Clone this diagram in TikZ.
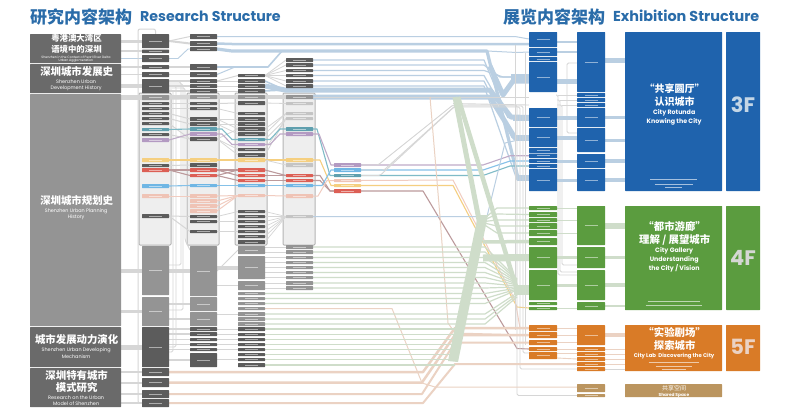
\documentclass[tikz,border=0pt]{standalone}
\usepackage{fontspec}
\setmainfont{Poppins}
\newfontfamily\cjk{Noto Sans CJK SC}
\usetikzlibrary{calc}
\pgfdeclarelayer{panel}\pgfdeclarelayer{wires}
\pgfsetlayers{panel,wires,main}
\definecolor{hd}{HTML}{1F63AD}\definecolor{tt}{HTML}{2A6CA9}
\definecolor{dk}{HTML}{5C5C5C}\definecolor{hdk}{HTML}{6A6A6A}\definecolor{mg}{HTML}{949494}
\definecolor{lg}{HTML}{C4C4C4}\definecolor{pf}{HTML}{EEEEEE}\definecolor{pb}{HTML}{B4B4B4}
\definecolor{cteal}{HTML}{5F9FAE}\definecolor{cpur}{HTML}{B39AC2}\definecolor{cblu}{HTML}{6FB6E4}
\definecolor{cyel}{HTML}{F5CF80}\definecolor{cred}{HTML}{DC5F55}\definecolor{cpnk}{HTML}{EFC3B5}
\definecolor{bgrn}{HTML}{5B9C3F}\definecolor{bora}{HTML}{D97B27}\definecolor{btan}{HTML}{BB955F}
\definecolor{wb}{HTML}{BACFE2}\definecolor{wg}{HTML}{CFDDCA}\definecolor{wp}{HTML}{EBD2C3}\definecolor{wy}{HTML}{D6D6D6}
\definecolor{lteal}{HTML}{7FBBC7}\definecolor{lred}{HTML}{BC9A9C}\definecolor{lpur}{HTML}{BFABC8}
\tikzset{
 bb/.style={rectangle,inner sep=0pt,outer sep=0pt,rounded corners=0.5pt,text=white,text opacity=.5},
 sdk/.style={bb,fill=dk}, shd/.style={bb,fill=hdk}, smg/.style={bb,fill=mg}, slg/.style={bb,fill=lg},
 stl/.style={bb,fill=cteal}, spu/.style={bb,fill=cpur}, sbl/.style={bb,fill=cblu}, sye/.style={bb,fill=cyel},
 sre/.style={bb,fill=cred}, spn/.style={bb,fill=cpnk}, shb/.style={bb,fill=hd}, sgr/.style={bb,fill=bgrn},
 sor/.style={bb,fill=bora}, stn/.style={bb,fill=btan},
 pnl/.style={rectangle,inner sep=0pt,outer sep=0pt,rounded corners=1pt,fill=pf,draw=pb,line width=1pt},
 wire/.style={line join=round},
 wgy/.style={wire,draw=wy,line width=#1}, wgy/.default=1pt,
 wbl/.style={wire,draw=wb,line width=#1}, wbl/.default=1pt,
 wgn/.style={wire,draw=wg,line width=#1}, wgn/.default=1pt,
 wpe/.style={wire,draw=wp,line width=#1}, wpe/.default=1pt,
 wtl/.style={wire,draw=lteal,line width=1.1pt},
 wpu/.style={wire,draw=lpur,line width=1.1pt},
 wbu/.style={wire,draw=cblu!85,line width=1.1pt},
 wye/.style={wire,draw=cyel,line width=1.1pt},
 wre/.style={wire,draw=lred,line width=1.1pt},
 wpk/.style={wire,draw=cpnk!85,line width=1pt},
 txw/.style={inner sep=0pt,outer sep=0pt,text=white,align=center},
}
\newcommand\bx[6]{\pgfmathsetmacro\bw{#5-#3}\pgfmathsetmacro\bh{#6-#4}\pgfmathsetmacro\bs{min(.5*\bw,13)}%
 \node[#1,minimum width=\bw pt,minimum height=\bh pt] (#2) at ({(#3+#5)/2},{(#4+#6)/2}) {\rule{\bs pt}{1pt}};}
\newcommand\px[6]{\pgfmathsetmacro\bw{#5-#3}\pgfmathsetmacro\bh{#6-#4}%
 \node[#1,minimum width=\bw pt,minimum height=\bh pt] (#2) at ({(#3+#5)/2},{(#4+#6)/2}) {};}
\newcommand\ca[4]{\bx{#4}{#1}{142}{#2}{169}{#3}}
\newcommand\cb[4]{\bx{#4}{#1}{190}{#2}{217}{#3}}
\newcommand\cc[4]{\bx{#4}{#1}{238}{#2}{265}{#3}}
\newcommand\cd[4]{\bx{#4}{#1}{286}{#2}{313}{#3}}
\newcommand\ce[4]{\bx{#4}{#1}{334}{#2}{361}{#3}}
\newcommand\cf[4]{\bx{#4}{#1}{529}{#2}{557}{#3}}
\newcommand\cg[4]{\bx{#4}{#1}{577}{#2}{605}{#3}}
\newcommand\tx[5]{\node[txw] (#1) at (#2,#3) {#4 #5};}
\newcounter{smc}
\newcommand\sm[3]{\stepcounter{smc}\node[inner sep=0pt,text=white,text opacity=.6] (sm\arabic{smc}) at (#1,#2) {\rule{#3pt}{1pt}};}
\newcommand\hto[3]{\draw[#1] (#2.east |- #3.west) -- (#3.west);}
\newcommand\st[3]{\draw[#1] (#2.east) -- (#3.west);}
\newcommand\chf[5]{\draw[#1] (#2.east) -- (#2.east -| #4,0) -- (#3.west -| #5,0) -- (#3.west);}
\begin{document}
\begin{tikzpicture}[x=1pt,y=-1pt]
\useasboundingbox (0,0) rectangle (790,416);
\begin{pgfonlayer}{panel}
\fill[white] (0,0) rectangle (790,416);
\end{pgfonlayer}
% titles
\node[inner sep=0pt,anchor=west,text=tt] (t1) at (30,16.5) {\cjk\bfseries\fontsize{17}{17}\selectfont 研究内容架构};
\node[inner sep=0pt,anchor=west,text=tt] (t2) at (140,16) {\bfseries\fontsize{14.2}{14.2}\selectfont Research Structure};
\node[inner sep=0pt,anchor=west,text=tt] (t3) at (503,16.5) {\cjk\bfseries\fontsize{17}{17}\selectfont 展览内容架构};
\node[inner sep=0pt,anchor=west,text=tt] (t4) at (613,16) {\bfseries\fontsize{14.4}{14.4}\selectfont Exhibition Structure};
% panels
\begin{pgfonlayer}{panel}
\px{pnl}{pA}{139}{93}{171}{245}
\px{pnl}{pB}{187}{93}{219}{245}
\px{pnl}{pC}{235}{93}{267}{245}
\px{pnl}{pD}{283}{93}{315}{245}
\end{pgfonlayer}
% headers
\px{shd}{h1}{30}{34}{121}{63}
\px{shd}{h2}{30}{64}{121}{93}
\px{smg}{h3}{30}{94}{121}{326}
\px{shd}{h4}{30}{327}{121}{367}
\px{shd}{h5}{30}{368}{121}{407}
% column A
\ca{a1}{34}{48}{sdk}\ca{a2}{49.5}{53}{sdk}\ca{a3}{55}{62}{sdk}\ca{a4}{65}{69}{sdk}\ca{a5}{72}{77}{sdk}\ca{a6}{79}{93}{sdk}
\ca{a7}{95}{100}{smg}\ca{a8}{102}{105}{sdk}\ca{a9}{107}{110}{sdk}\ca{a10}{112}{115}{sdk}\ca{a11}{117}{120}{sdk}\ca{a12}{122}{125}{sdk}
\ca{a13}{128}{131}{stl}\ca{a14}{133}{136}{sdk}\ca{a15}{138}{142}{spu}\ca{a16}{158}{162}{sye}\ca{a17}{164}{167}{sdk}\ca{a18}{168}{172}{sre}
\ca{a19}{184}{188}{sbl}\ca{a20}{194}{198}{spn}\ca{a21}{214}{218}{sdk}\ca{a22}{246}{295}{smg}\ca{a23}{297}{326}{smg}\ca{a24}{327}{367}{sdk}
\ca{a25}{368}{376}{sdk}\ca{a26}{378}{387}{sdk}\ca{a27}{390}{398}{sdk}\ca{a28}{399}{407}{sdk}
% column B
\cb{b1}{34}{39}{sdk}\cb{b2}{41}{46}{sdk}\cb{b3}{47}{51}{sdk}\cb{b4}{64}{70}{sdk}\cb{b5}{72}{77}{sdk}\cb{b6}{79}{83}{sdk}\cb{b7}{84}{88}{sdk}\cb{b8}{89}{93}{sdk}
\cb{b9}{95}{99}{smg}\cb{b10}{102}{105}{sdk}\cb{b11}{107}{110}{sdk}\cb{b12}{117}{121}{sdk}\cb{b13}{122}{126}{sdk}\cb{b14}{127}{131}{stl}\cb{b15}{132}{136}{spu}\cb{b16}{137}{141}{sdk}
\cb{b17}{158}{162}{sye}\cb{b18}{163}{167}{sdk}\cb{b19}{168}{172}{sre}\cb{b20}{174}{177}{sre}\cb{b21}{184}{187}{sbl}\cb{b22}{194}{198}{spn}\cb{b23}{199}{203}{spn}\cb{b24}{204}{208}{spn}\cb{b25}{209}{213}{spn}
\cb{b26}{215}{218}{sdk}\cb{b27}{220}{223}{sdk}\cb{b28}{230}{233}{sdk}\cb{b29}{246}{296}{smg}\cb{b30}{297}{311}{smg}\cb{b31}{312}{326}{smg}
\cb{b32}{327}{331}{sdk}\cb{b33}{332}{336}{sdk}\cb{b34}{338}{341}{sdk}\cb{b35}{343}{346}{sdk}\cb{b36}{348}{351}{sdk}\cb{b37}{353}{367}{sdk}
% column C
\cc{c1}{74}{77}{sdk}\cc{c2}{79}{83}{sdk}\cc{c3}{84}{88}{sdk}\cc{c4}{89}{93}{sdk}\cc{c5}{95}{99}{smg}\cc{c6}{101}{105}{sdk}
\cc{c7}{112}{115}{sdk}\cc{c8}{117}{121}{sdk}\cc{c9}{122}{126}{sdk}\cc{c10}{127}{131}{sdk}\cc{c11}{132}{136}{sdk}\cc{c12}{138}{141}{stl}\cc{c13}{143}{146}{spu}\cc{c14}{148}{151}{sdk}\cc{c15}{153}{157}{sdk}
\cc{c16}{158}{162}{sye}\cc{c17}{168}{172}{sre}\cc{c18}{174}{177}{sre}\cc{c19}{179}{182}{sre}\cc{c20}{184}{187}{sbl}\cc{c21}{194}{197}{spn}
\cc{c22}{210}{213}{sdk}\cc{c23}{215}{218}{sdk}\cc{c24}{220}{223}{sdk}\cc{c25}{225}{228}{sdk}\cc{c26}{230}{233}{sdk}\cc{c27}{235}{238}{sdk}\cc{c28}{240}{244}{sdk}
\cc{c29}{246}{254}{smg}\cc{c30}{256}{279}{smg}\cc{c31}{281}{290}{smg}\cc{c32}{292}{295}{smg}\cc{c33}{297}{300}{smg}\cc{c34}{302}{305}{smg}\cc{c35}{307}{310}{smg}\cc{c36}{312}{316}{smg}\cc{c37}{317}{321}{smg}\cc{c38}{322}{326}{smg}
\cc{c39}{327}{331}{sdk}\cc{c40}{333}{336}{sdk}\cc{c41}{338}{341}{sdk}\cc{c42}{343}{346}{sdk}\cc{c43}{348}{351}{sdk}\cc{c44}{353}{356}{sdk}\cc{c45}{358}{361}{sdk}\cc{c46}{363}{367}{sdk}
% column D
\cd{d1}{58}{62}{sdk}\cd{d2}{63}{67}{sdk}\cd{d3}{69}{72}{sdk}\cd{d4}{74}{77}{sdk}\cd{d5}{79}{83}{sdk}\cd{d6}{84}{88}{sdk}\cd{d7}{95}{99}{smg}\cd{d8}{102}{105}{slg}\cd{d9}{112}{115}{slg}\cd{d10}{117}{120}{slg}
\cd{d11}{127}{131}{stl}\cd{d12}{132}{136}{spu}\cd{d13}{158}{162}{sye}\cd{d14}{163}{167}{slg}\cd{d15}{174}{177}{sre}\cd{d16}{179}{182}{sre}\cd{d17}{184}{187}{sbl}\cd{d18}{194}{198}{spn}\cd{d19}{215}{218}{slg}
\cd{d20}{245}{249}{smg}\cd{d21}{250}{254}{smg}\cd{d22}{256}{259}{smg}\cd{d23}{261}{264}{smg}\cd{d24}{266}{269}{smg}\cd{d25}{271}{274}{smg}\cd{d26}{276}{279}{smg}\cd{d27}{281}{285}{smg}\cd{d28}{286}{290}{smg}
% column E
\ce{e1}{163}{167}{spu}\ce{e2}{168}{172}{sbl}\ce{e3}{174}{177}{stl}\ce{e4}{179}{182}{spn}\ce{e5}{184}{187}{sye}\ce{e6}{189}{193}{sre}
% column F
\cf{f1}{32}{47}{shb}\cf{f2}{48}{56}{shb}\cf{f3}{57}{61}{shb}\cf{f4}{62}{92}{shb}\cf{f5}{108}{127}{shb}\cf{f6}{128}{147}{shb}\cf{f7}{148}{153}{shb}\cf{f8}{153.5}{158}{shb}\cf{f9}{159}{163}{shb}\cf{f10}{164}{168}{shb}\cf{f11}{169}{191}{shb}
\cf{fg1}{206}{210}{sgr}\cf{fg2}{212}{217}{sgr}\cf{fg3}{218}{222}{sgr}\cf{fg4}{223}{229}{sgr}\cf{fg5}{230}{236}{sgr}\cf{fg6}{238}{245}{sgr}\cf{fg7}{247}{268}{sgr}\cf{fg8}{270}{300}{sgr}\cf{fg9}{302}{305}{sgr}\cf{fg10}{307}{310}{sgr}
\cf{fo1}{325}{331}{sor}\cf{fo2}{332}{338}{sor}\cf{fo3}{340}{345}{sor}\cf{fo4}{347}{351}{sor}\cf{fo5}{352}{359}{sor}
% column G
\cg{g1}{32}{92}{shb}\cg{g2}{93}{97}{shb}\cg{g3}{98}{102}{shb}\cg{g4}{103}{107}{shb}\cg{g5}{108}{127}{shb}\cg{g6}{128}{152}{shb}\cg{g7}{154}{168}{shb}\cg{g8}{169}{191}{shb}
\cg{gg1}{206}{245}{sgr}\cg{gg2}{247}{268}{sgr}\cg{gg3}{270}{300}{sgr}\cg{gg4}{302}{310}{sgr}
\cg{go1}{325}{345}{sor}\cg{go2}{347}{351}{sor}\cg{go3}{352}{356}{sor}\cg{go4}{357}{361}{sor}\cg{go5}{362}{366}{sor}\cg{go6}{367}{371}{sor}
\cg{gt1}{384}{392}{stn}\cg{gt2}{394}{397}{stn}
% big boxes
\px{shb}{bB}{625}{32}{722}{191}\px{shb}{fB}{726}{32}{760}{191}
\px{sgr}{bG}{625}{206}{722}{310}\px{sgr}{fG}{726}{206}{760}{310}
\px{sor}{bO}{625}{325}{722}{371}\px{sor}{fO}{726}{325}{760}{371}
\px{stn}{bT}{625}{384}{722}{397}
% texts left
\tx{l1}{75.5}{38.5}{\cjk\bfseries\fontsize{8.4}{8.4}\selectfont}{粤港澳大湾区}
\tx{l2}{75.5}{49}{\cjk\bfseries\fontsize{8.4}{8.4}\selectfont}{语境中的深圳}
\tx{l3}{75.5}{56.8}{\fontsize{3.2}{3.2}\selectfont}{Shenzhen in the Context of Pearl River Delta}
\tx{l4}{75.5}{61}{\fontsize{3.2}{3.2}\selectfont}{Urban Agglomeration}
\tx{l5}{75.5}{72}{\cjk\bfseries\fontsize{10.4}{10.4}\selectfont}{深圳城市发展史}
\tx{l6}{75.5}{82}{\fontsize{4.9}{4.9}\selectfont}{Shenzhen Urban}
\tx{l7}{75.5}{88.3}{\fontsize{4.9}{4.9}\selectfont}{Development History}
\tx{l8}{75.5}{201}{\cjk\bfseries\fontsize{10.4}{10.4}\selectfont}{深圳城市规划史}
\tx{l9}{75.5}{211}{\fontsize{4.9}{4.9}\selectfont}{Shenzhen Urban Planning}
\tx{l10}{75.5}{217.3}{\fontsize{4.9}{4.9}\selectfont}{History}
\tx{l11}{75.5}{340}{\cjk\bfseries\fontsize{10.4}{10.4}\selectfont}{城市发展动力演化}
\tx{l12}{75.5}{350.5}{\fontsize{4.9}{4.9}\selectfont}{Shenzhen Urban Developing}
\tx{l13}{75.5}{356.8}{\fontsize{4.9}{4.9}\selectfont}{Mechanism}
\tx{l14}{75.5}{375}{\cjk\bfseries\fontsize{10.4}{10.4}\selectfont}{深圳特有城市}
\tx{l15}{75.5}{387.5}{\cjk\bfseries\fontsize{10.4}{10.4}\selectfont}{模式研究}
\tx{l16}{75.5}{397.3}{\fontsize{4.9}{4.9}\selectfont}{Research on the Urban}
\tx{l17}{75.5}{403.6}{\fontsize{4.9}{4.9}\selectfont}{Model of Shenzhen}
% texts right
\tx{r1}{673.5}{89}{\cjk\bfseries\fontsize{10}{10}\selectfont}{“共享圆厅”}
\tx{r2}{673.5}{102}{\cjk\bfseries\fontsize{10}{10}\selectfont}{认识城市}
\tx{r3}{673.5}{113}{\bfseries\fontsize{6.3}{6.3}\selectfont}{City Rotunda}
\tx{r4}{673.5}{121.5}{\bfseries\fontsize{6.3}{6.3}\selectfont}{Knowing the City}
\sm{673.5}{179.5}{47}\sm{673.5}{184}{38}\sm{673.5}{187.5}{17}
\node[inner sep=0pt,text=wb!85!white] (n3) at (743,105) {\bfseries\fontsize{21}{21}\selectfont 3F};
\tx{r5}{673.5}{227}{\cjk\bfseries\fontsize{10.4}{10.4}\selectfont}{“都市游廊”}
\tx{r6}{673.5}{240}{\cjk\bfseries\fontsize{10.4}{10.4}\selectfont}{理解 / 展望城市}
\tx{r7}{673.5}{251}{\bfseries\fontsize{6.3}{6.3}\selectfont}{City Gallery}
\tx{r8}{673.5}{259.5}{\bfseries\fontsize{6.3}{6.3}\selectfont}{Understanding}
\tx{r9}{673.5}{268}{\bfseries\fontsize{6.3}{6.3}\selectfont}{the City / Vision}
\sm{673.5}{301}{52}\sm{673.5}{305}{56}
\node[inner sep=0pt,text=wy!80!wg] (n4) at (743,258) {\bfseries\fontsize{21}{21}\selectfont 4F};
\tx{r10}{673.5}{332.5}{\cjk\bfseries\fontsize{10.4}{10.4}\selectfont}{“实验剧场”}
\tx{r11}{673.5}{345}{\cjk\bfseries\fontsize{10.4}{10.4}\selectfont}{探索城市}
\tx{r12}{673.5}{356.3}{\bfseries\fontsize{5.4}{5.4}\selectfont}{City Lab\ \ Discovering the City}
\sm{673.5}{362}{50}\sm{673.5}{366}{36}\sm{673.5}{369.3}{24}
\node[inner sep=0pt,text=wp] (n5) at (743,347) {\bfseries\fontsize{21}{21}\selectfont 5F};
\tx{r13}{673.5}{388}{\cjk\fontsize{6}{6}\selectfont}{共享空间}
\tx{r14}{673.5}{395}{\bfseries\fontsize{4.3}{4.3}\selectfont}{Shared Space}
% ===== connectors =====
\begin{pgfonlayer}{wires}
\hto{wgy=3pt}{h1}{a1}\hto{wgy=2pt}{h1}{a2}\hto{wbl=.8pt}{h1}{a3}
\hto{wgy=1.5pt}{h2}{a4}\hto{wgy=1.5pt}{h2}{a5}\hto{wgy=4pt}{h2}{a6}
\hto{wgy=4.5pt}{h3}{a7}\hto{wgy=4pt}{h3}{a22}\hto{wgy=2.5pt}{h3}{a23}
\hto{wgy=5pt}{h4}{a24}\hto{wgy=2.5pt}{h5}{a25}\hto{wgy=2pt}{h5}{a26}\hto{wgy=1.5pt}{h5}{a27}\hto{wgy=2pt}{h5}{a28}
\draw[wgy=1pt,rounded corners=2pt] (a1.north) -- (a1.north |- 0,29) -- (138,29) -- (138,403) -- (a28.west);
\draw[wgy=.9pt,rounded corners=1.5pt] (a6.east |- 0,82) -- (181,82) -- (181,265) -- (a22.east |- 0,265);
\draw[wgy=.9pt,rounded corners=1.5pt] (a6.east |- 0,84) -- (183,84) -- (183,310) -- (a23.east |- 0,310);
\draw[wgy=.9pt,rounded corners=1.5pt] (a6.east |- 0,86) -- (176,86) -- (176,347) -- (a24.east |- 0,347);
\draw[wgy=.9pt,rounded corners=1.5pt] (a6.east |- 0,88) -- (185,88) -- (185,240) -- (b29.west |- 0,250);
\draw[wgy=.9pt,rounded corners=1.5pt] (a6.east |- 0,90) -- (173,90) -- (173,352) -- (a24.east |- 0,352);
\st{wgy=1pt}{a1}{b1}\st{wgy=2pt}{a1}{b2}\chf{wbl=.9pt}{a3}{b3}{178}{188}
\st{wgy=1.5pt}{a4}{b4}\st{wgy=1.5pt}{a5}{b5}
\hto{wgy=1.5pt}{a6}{b6}\hto{wgy=1.5pt}{a6}{b7}\hto{wgy=1.5pt}{a6}{b8}
\st{wgy=4.5pt}{a7}{b9}
\st{wgy=1pt}{a8}{b10}\st{wgy=1pt}{a9}{b11}\st{wgy=1pt}{a10}{b12}\st{wgy=1pt}{a11}{b13}\st{wgy=1pt}{a12}{b16}\st{wgy=1pt}{a14}{b16}\st{wgy=1pt}{a17}{b18}\st{wgy=1pt}{a21}{b26}\st{wgy=1pt}{a21}{b28}
\st{wtl}{a13}{b14}\st{wpu}{a15}{b15}\st{wye}{a16}{b17}\st{wre}{a18}{b19}\st{wre}{a18}{b20}\st{wbu}{a19}{b21}
\st{wpk}{a20}{b22}
\hto{wgy=4pt}{a22}{b29}\hto{wgy=1.2pt}{a23}{b30}\hto{wgy=1.2pt}{a23}{b31}
\hto{wgy=1.2pt}{a24}{b32}\hto{wgy=1.2pt}{a24}{b33}\hto{wgy=1.2pt}{a24}{b34}\hto{wgy=1.2pt}{a24}{b35}\hto{wgy=1.2pt}{a24}{b36}\hto{wgy=1.6pt}{a24}{b37}
\st{wgy=1pt}{b6}{c1}\st{wgy=1pt}{b6}{c2}\st{wgy=1pt}{b7}{c3}\st{wgy=1pt}{b8}{c4}\st{wgy=4.5pt}{b9}{c5}\st{wgy=1pt}{b10}{c6}
\st{wgy=.8pt}{b11}{c7}\st{wgy=.8pt}{b12}{c8}\st{wgy=.8pt}{b12}{c10}\st{wgy=.8pt}{b13}{c9}\st{wgy=.8pt}{b13}{c11}\st{wgy=.8pt}{b16}{c14}\st{wgy=.8pt}{b16}{c15}\st{wgy=.8pt}{b16}{c10}
\chf{wtl}{b14}{c12}{222}{232}\chf{wpu}{b15}{c13}{222}{232}\st{wye}{b17}{c16}
\st{wre}{b19}{c17}\st{wre}{b20}{c17}\st{wre}{b19}{c18}\st{wre}{b20}{c19}\st{wbu}{b21}{c20}
\st{wpk}{b22}{c21}\st{wpk}{b23}{c21}\st{wpk}{b24}{c21}\st{wpk}{b25}{c21}
\st{wgy=.8pt}{b26}{c22}\st{wgy=.8pt}{b27}{c24}\st{wgy=.8pt}{b28}{c26}
\st{wgy=1pt}{b29}{c29}\hto{wgy=4pt}{b29}{c30}\hto{wgy=1pt}{b30}{c31}\hto{wgy=1pt}{b31}{c36}\hto{wgy=1pt}{b32}{c39}\hto{wgy=1pt}{b33}{c40}\hto{wgy=1pt}{b34}{c41}\hto{wgy=1pt}{b35}{c42}\hto{wgy=1pt}{b36}{c43}\hto{wgy=1pt}{b37}{c45}
\draw[wbl=1pt] (b1.east) -- (b1.east -| 515,0) -- (f1.west |- 0,39);
\draw[wbl=2.5pt] (b2.east) -- (232,44) -- (f1.west |- 0,44);
\draw[wbl=3.2pt] (b3.east) -- (232,51) -- (487,51) -- (518,178) -- (f11.west |- 0,178);
\draw[wbl=1pt] (487,51) -- (517,52.5) -- (f2.west);
\draw[wbl=1.6pt] (b4.east) -- (268,67) -- (282,51) -- (300,51);
\draw[wbl=1pt] (b5.east) -- (235,67) -- (268,67);
\foreach \n in {d1,d2,d3,d4,d5,d6}{\draw[wgy=.8pt] (c1.east) -- (\n.west);}
\chf{wbl=1.2pt}{d1}{f5}{484}{508}
\chf{wbl=1.2pt}{d2}{f4}{484}{500}
\chf{wbl=1.2pt}{d3}{f4}{484}{503}
\chf{wbl=1.2pt}{d4}{f5}{484}{508}
\chf{wbl=1.2pt}{d5}{f6}{484}{512}
\chf{wbl=1.2pt}{d6}{f11}{484}{517}
\draw[wbl=5pt] (c3.east) -- (285,90) -- (490,90) -- (511,117) -- (f5.west);
\draw[wbl=1.5pt] (c4.east) -- (285,90);\draw[wbl=1.5pt] (c2.east) -- (285,90);
\st{wgy=4.5pt}{c5}{d7}
\draw[wbl=5pt] (d7.east) -- (490,97) -- (515,138) -- (f6.west);
\draw[wbl=5pt] (490,66) -- (503,95) -- (513,81) -- (f4.west |- 0,81);
\draw[wbl=6pt] (f4.west -| 511,0) -- (f4.west);
\draw[wbl=6pt] (f11.west |- 0,178) -- ++(-12,0);
\draw[wbl=6pt] (f5.west) -- ++(-16,0);\draw[wbl=6pt] (f6.west) -- ++(-14,0);
\st{wgy=.8pt}{c6}{d8}\st{wgy=.8pt}{c10}{d9}\st{wgy=.8pt}{c11}{d9}\st{wgy=.8pt}{c14}{d10}\st{wgy=.8pt}{c15}{d10}\st{wgy=.8pt}{c12}{d10}
\chf{wtl}{c12}{d11}{270}{280}\chf{wpu}{c13}{d12}{270}{280}\st{wye}{c16}{d13}\st{wgy=.8pt}{c16}{d14}
\st{wre}{c17}{d15}\st{wre}{c18}{d15}\st{wre}{c19}{d16}\st{wbu}{c20}{d17}\st{wpk}{c21}{d18}
\foreach \n in {c22,c23,c24,c25,c26,c27,c28}{\draw[wgy=.7pt] (\n.east) -- (d19.west);}
\hto{wgy=.8pt}{c29}{d20}\hto{wgy=.8pt}{c29}{d21}
\foreach \n in {d22,d23,d24,d25,d26}{\draw[wgy=.8pt] (c30.east |- \n.west) -- (\n.west);}
\foreach \n in {d27,d28}{\draw[wgy=.8pt] (c31.east |- \n.west) -- (\n.west);}
\chf{wtl}{d11}{e3}{317}{330}\chf{wpu}{d12}{e1}{319}{331}\chf{wye}{d13}{e5}{320}{331}
\chf{wre}{d15}{e6}{320}{330}\chf{wre}{d16}{e6}{320}{330}\chf{wbu}{d17}{e2}{322}{331}\chf{wpk}{d18}{e4}{318}{327}
\chf{wtl}{e3}{f10}{483}{510}\chf{wpu}{e1}{f8}{483}{510}\chf{wbu}{e2}{f9}{483}{510}
\draw[wye] (e5.east) -- (453,185.5) -- (517,307) -- (fg10.west |- 0,308);
\draw[wre] (e6.east) -- (423,191) -- (517,348.5) -- (fo4.west);
\draw[wpk] (e4.east) -- (453,180) -- (515,300) -- (520,328) -- (fo1.west);
\draw[wbl=1pt] (d19.east) -- (487,216.5) -- (505,143) -- (f6.west);
\draw[wgy=.9pt,rounded corners=1.5pt] (e1.east) -- (378,165) -- (453,105) -- (517,105) -- (517,395.5) -- (gt2.west);
\draw[wgy=.9pt,rounded corners=1.5pt] (e3.east) -- (380,175.5) -- (454,107) -- (520,107) -- (520,369) -- (go6.west);
\draw[wgy=.9pt,rounded corners=1.5pt] (e2.east) -- (384,170) -- (455,106) -- (523,106) -- (523,353) -- (fo5.west |- 0,353);
\draw[wgy=.9pt] (d7.east) -- (f5.west |- 0,97);
\draw[wgy=.9pt] (d8.east -| 453,0) -- (f5.west |- 0,105);
\draw[wgy=.9pt] (515,45) -- (515,330);\draw[wgy=.9pt] (525,53) -- (525,345);
\draw[wgy=.9pt,rounded corners=1.5pt] (g1.west |- 0,63) -- (567,63) -- (567,133) -- (g6.west |- 0,133);
\draw[wgy=.9pt,rounded corners=1.5pt] (f5.east |- 0,95) -- (558,95) -- (558,275) -- (gg3.west |- 0,275);
\draw[wgy=.9pt,rounded corners=1.5pt] (f5.east |- 0,100) -- (560,100) -- (560,272) -- (gg3.west |- 0,272);
\draw[wgy=.9pt,rounded corners=1.5pt] (f5.east |- 0,105) -- (562,105) -- (562,265) -- (gg2.west |- 0,265);
\draw[wgy=.9pt] (g2.west -| 558,0) -- (g2.west);\draw[wgy=.9pt] (g3.west -| 560,0) -- (g3.west);\draw[wgy=.9pt] (g4.west -| 562,0) -- (g4.west);
\chf{wpe=2.5pt}{a25}{fo1}{423}{455}
\chf{wpe=2.5pt}{a26}{fo2}{422}{455}
\chf{wpe=2pt}{a27}{fo3}{422}{455}
\draw[wpe=2pt] (a28.east) -- (423,403) -- (455,364) -- (go5.west |- 0,364);
\draw[wpe=1pt] (c35.east) -- (392,308.5) -- (422,383) -- (435,387) -- (gt1.west |- 0,387);
\draw[wpe=1pt] (d7.east -| 430,0) -- (440,217) -- (448,323) -- (455,333) -- (fo2.west);
\draw[wpe=.9pt] (fo4.east |- 0,353) -- (go3.west |- 0,353);
\draw[wpe=.9pt] (fo5.east |- 0,358) -- (go4.west |- 0,359);
\fill[wg] (448,361) -- (458,362) -- (488,215) -- (478,215) -- cycle;
\draw[wgn=5pt] (d7.east -| 455,0) -- (480,225);
\draw[wgn=4.5pt] (d7.east -| 458,0) -- (517,290);
\draw[wgn=3.5pt] (483,242) -- (fg6.west);
\draw[wgn=7pt] (483,258) -- (fg7.west);
\draw[wgn=10pt] (514,290) -- (fg8.west |- 0,290);
\foreach \n/\y in {fg1/208,fg2/214,fg3/220,fg4/226,fg5/233}{\draw[wgn=1.2pt] (480,222) -- (497,\y) -- (\n.west);}
\foreach \n/\t in {d20/279,d21/280,d22/281,d23/282,d24/283,d25/284,d26/285,d27/286,d28/287,c32/288,c33/289,c34/290,c36/293,c37/295,c38/297}{\draw[wgn=1.2pt] (\n.east) -- (\n.east -| 485,0) -- (517,\t);}
\foreach \n in {c39,c40,c41,c42,c43,c44,c45}{\draw[wgn=1.2pt] (\n.east) -- (\n.east -| 455,0);}
\draw[wgn=1.8pt] (c46.east) -- (c46.east -| 455,0);
\draw[wbl=1.4pt] (f1.east |- 0,42) -- (g1.west |- 0,42);\draw[wbl=1.2pt] (f2.east) -- (g1.west |- 0,52);
\draw[wbl=5pt] (f4.east |- 0,81) -- (g1.west |- 0,81);
\st{wbl=4pt}{f5}{g5}\draw[wbl=4pt] (f6.east) -- (g6.west |- f6.east);
\draw[wbl=3pt] (f9.east) -- (g7.west |- f9.east);\st{wbl=3pt}{f11}{g8}
\draw[wbl=5pt] (g1.east |- 0,60) -- (bB.west |- 0,60);
\draw[wbl=3pt] (g5.east) -- (bB.west |- g5.east);\draw[wbl=3pt] (g6.east) -- (bB.west |- g6.east);
\draw[wbl=4pt] (g7.east) -- (bB.west |- g7.east);\draw[wbl=4pt] (g8.east) -- (bB.west |- g8.east);
\draw[wgn=1pt] (fg1.east) -- (gg1.west |- fg1.east);\draw[wgn=1pt] (fg3.east) -- (gg1.west |- fg3.east);\draw[wgn=1pt] (fg5.east) -- (gg1.west |- fg5.east);
\st{wgn=3pt}{fg7}{gg2}\draw[wgn=3pt] (fg8.east |- 0,285) -- (gg3.west |- 0,285);\draw[wgn=1.5pt] (fg10.east) -- (gg4.west |- fg10.east);
\draw[wgn=6pt] (gg1.east |- 0,226) -- (bG.west |- 0,226);
\draw[wgn=3.5pt] (gg2.east) -- (bG.west |- gg2.east);\draw[wgn=3.5pt] (gg3.east |- 0,285) -- (bG.west |- 0,285);\draw[wgn=2pt] (gg4.east) -- (bG.west |- gg4.east);
\draw[wpe=1pt] (fo1.east) -- (go1.west |- fo1.east);\draw[wpe=1pt] (fo2.east) -- (go1.west |- fo2.east);\draw[wpe=1pt] (fo3.east) -- (go1.west |- fo3.east);
\st{wpe=1pt}{fo4}{go2}
\draw[wpe=4pt] (go1.east) -- (bO.west |- go1.east);
\foreach \n in {go2,go3,go4,go5}{\draw[wpe=.9pt] (\n.east) -- (bO.west |- \n.east);}
\draw[wgy=.9pt] (go6.east) -- (bO.west |- go6.east);
\end{pgfonlayer}
\end{tikzpicture}
\end{document}
